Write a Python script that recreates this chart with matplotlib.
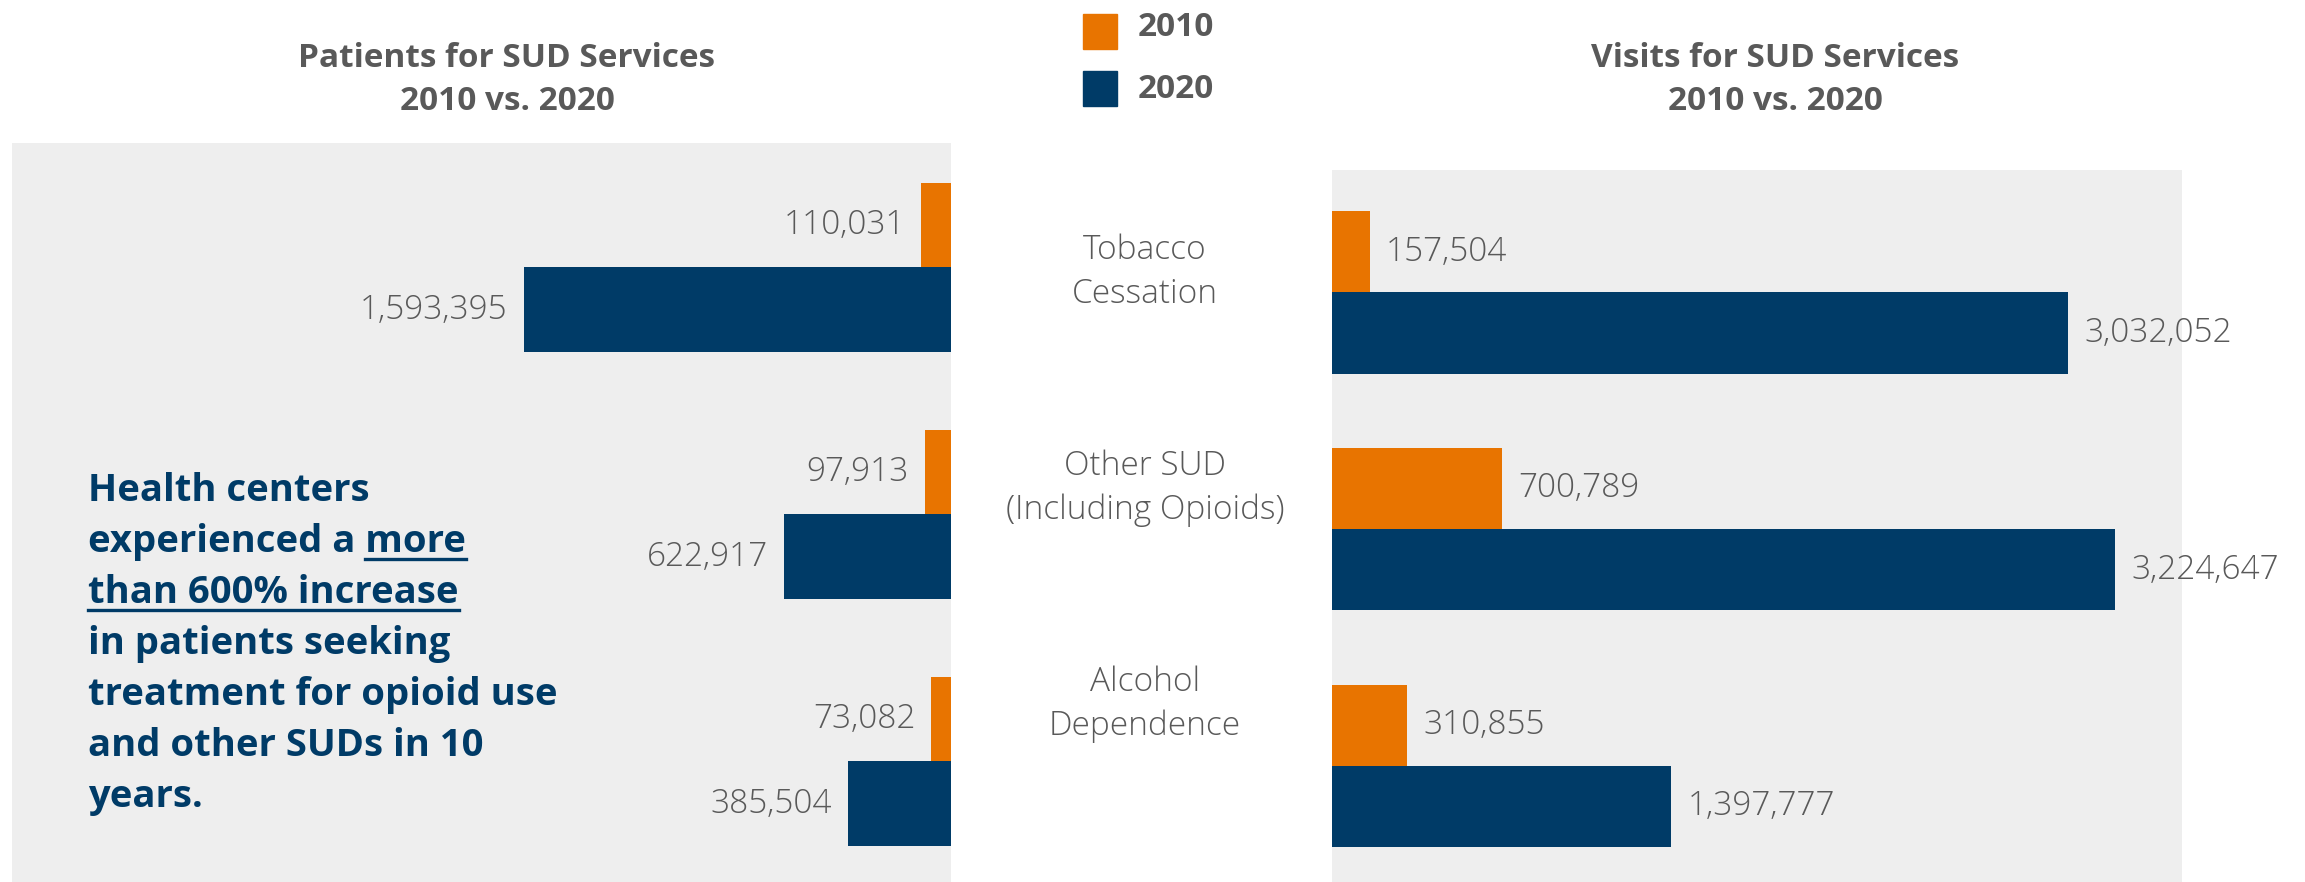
import numpy as np
import matplotlib
matplotlib.use('Agg')
import matplotlib.pyplot as plt
from matplotlib.patches import Rectangle
from matplotlib.lines import Line2D

plt.rcParams['font.family'] = ['Open Sans', 'DejaVu Sans']

# data
categories = ['Tobacco\nCessation', 'Other SUD\n(Including Opioids)', 'Alcohol\nDependence']
years = ['2010', '2020']
patients_2010 = [110031, 97913, 73082]
patients_2020 = [1593395, 622917, 385504]
visits_2010 = [157504, 700789, 310855]
visits_2020 = [3032052, 3224647, 1397777]

ORANGE = '#E87400'
BLUE = '#003B67'
GRAY = '#595959'
BG = '#EEEEEE'

W, H = 2305, 882
fig = plt.figure(figsize=(W / 100, H / 100), dpi=100)


def fx(px):
    return px / W


def fy(py):
    return 1 - py / H


axL = fig.add_axes([fx(12), 0, fx(951) - fx(12), 1 - 143 / H])
axR = fig.add_axes([fx(1332), 0, fx(2182) - fx(1332), 1 - 170 / H])

h = 0.343
y = np.arange(len(categories))

for ax in (axL, axR):
    ax.set_facecolor(BG)
    for s in ax.spines.values():
        s.set_visible(False)
    ax.set_xticks([])
    ax.set_yticks([])

# left chart: patients (bars grow to the left)
axL.barh(y - h / 2, patients_2010, height=h, color=ORANGE)
axL.barh(y + h / 2, patients_2020, height=h, color=BLUE)
axL.set_xlim(3.5e6, 0)
axL.set_ylim(2.488, -0.504)
for vals, off in ((patients_2010, -h / 2), (patients_2020, h / 2)):
    for i, v in enumerate(vals):
        axL.annotate(f'{v:,}', (v, i + off), xytext=(-16, 0), textcoords='offset pixels',
                     ha='right', va='center', fontsize=24, color=GRAY, fontweight='light')

# right chart: visits
axR.barh(y - h / 2, visits_2010, height=h, color=ORANGE)
axR.barh(y + h / 2, visits_2020, height=h, color=BLUE)
axR.set_xlim(0, 3.5e6)
axR.set_ylim(2.49, -0.517)
for vals, off in ((visits_2010, -h / 2), (visits_2020, h / 2)):
    for i, v in enumerate(vals):
        axR.annotate(f'{v:,}', (v, i + off), xytext=(16, 0), textcoords='offset pixels',
                     ha='left', va='center', fontsize=24, color=GRAY, fontweight='light',
                     annotation_clip=False)

# titles
fig.text(fx(507), fy(80), 'Patients for SUD Services\n2010 vs. 2020', ha='center', va='center',
         fontsize=24, fontweight='bold', color=GRAY, linespacing=1.4)
fig.text(fx(1775), fy(80), 'Visits for SUD Services\n2010 vs. 2020', ha='center', va='center',
         fontsize=24, fontweight='bold', color=GRAY, linespacing=1.4)

# legend
for col, label, top, ty in ((ORANGE, years[0], 14, 27), (BLUE, years[1], 71, 90)):
    fig.add_artist(Rectangle((fx(1083), fy(top + 35)), 34 / W, 35 / H,
                             transform=fig.transFigure, color=col))
    fig.text(fx(1138), fy(ty), label, ha='left', va='center', fontsize=24,
             fontweight='bold', color=GRAY)

# category labels in the middle
cat_y = [268, 484, 700]
for cat, cy in zip(categories, cat_y):
    lines = cat.split('\n')
    fig.text(fx(1145), fy(cy - 22), lines[0], ha='center', va='center_baseline',
             fontsize=24, color=GRAY, fontweight='light')
    fig.text(fx(1145), fy(cy + 22), lines[1], ha='center', va='center_baseline',
             fontsize=24, color=GRAY, fontweight='light')

# callout text
note = ['Health centers', 'experienced a more', 'than 600% increase', 'in patients seeking',
        'treatment for opioid use', 'and other SUDs in 10', 'years.']
base = 501
r = fig.canvas.get_renderer()
kw = dict(ha='left', va='baseline', fontsize=27.5, fontweight='bold', color=BLUE)
for k, line in enumerate(note):
    by = base + 51 * k
    t = fig.text(fx(88), fy(by), line, **kw)
    if k in (1, 2):
        ext = t.get_window_extent(r)
        x1 = ext.x1
        if k == 1:
            tmp = fig.text(0, 0, 'more', **kw)
            wm = tmp.get_window_extent(r).width
            tmp.remove()
            x0 = x1 - wm
        else:
            x0 = ext.x0
        fig.add_artist(Line2D([x0 / W, x1 / W], [fy(by + 7)] * 2, transform=fig.transFigure,
                              color=BLUE, linewidth=2.4))

fig.savefig('out.png', dpi=100)
